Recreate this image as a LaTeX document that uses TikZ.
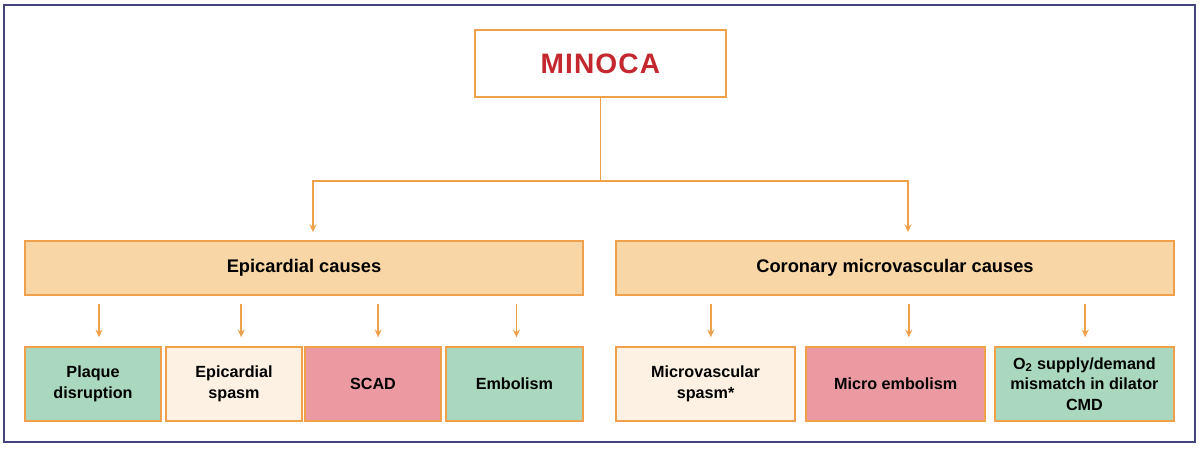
\documentclass[tikz,border=0pt]{standalone}
\usepackage{fontspec}
\setmainfont{Liberation Sans}
\usetikzlibrary{arrows.meta}

\definecolor{frameblue}{HTML}{45457F}
\definecolor{lineorange}{HTML}{F0A04A}
\definecolor{peach}{HTML}{F8D6A6}
\definecolor{mint}{HTML}{AAD8BE}
\definecolor{cream}{HTML}{FCF1E2}
\definecolor{rose}{HTML}{EB9AA2}
\definecolor{minored}{HTML}{C4282E}

\begin{document}
\begin{tikzpicture}[
    line width=1.3pt, draw=lineorange,
    arr/.style={-{Stealth[length=5.5pt,width=5pt]}, lineorange, line width=1.1pt},
    box/.style={draw=lineorange, line width=1.3pt, align=center, inner sep=2pt,
                font=\bfseries\fontsize{11.5}{14.5}\selectfont},
    cause/.style={box, fill=peach, minimum width=13.95cm, minimum height=1.35cm,
                  font=\bfseries\fontsize{13}{15}\selectfont},
    leaf/.style={box, minimum height=1.85cm}
]

\useasboundingbox (0,0) rectangle (30,11.2);
\draw[frameblue, line width=1.8pt] (0.1,0.15) rectangle (29.875,11.075);

% Row heights (cm)
\def\ya{9.61}
\def\yb{4.5}
\def\yc{1.6}

% top node
\node[box, fill=white, minimum width=6.275cm, minimum height=1.675cm,
      font=\bfseries\fontsize{20}{24}\selectfont\addfontfeatures{LetterSpace=4}, text=minored]
      (minoca) at (15.01,\ya) {MINOCA};

% two groups of causes
\node[cause] (epi) at (7.6,\yb)    {Epicardial causes};
\node[cause] (cmv) at (22.375,\yb) {Coronary microvascular causes};

% epicardial leaves
\node[leaf, fill=mint,  minimum width=3.4cm]   (plaque)   at (2.325,\yc) {Plaque\\disruption};
\node[leaf, fill=cream, minimum width=3.4cm]   (epispasm) at (5.85,\yc)  {Epicardial\\spasm};
\node[leaf, fill=rose,  minimum width=3.4cm]   (scad)     at (9.325,\yc) {SCAD};
\node[leaf, fill=mint,  minimum width=3.425cm] (embol)    at (12.86,\yc) {Embolism};

% microvascular leaves
\node[leaf, fill=cream, minimum width=4.475cm] (mvspasm)  at (17.64,\yc) {Microvascular\\spasm*};
\node[leaf, fill=rose,  minimum width=4.475cm] (microemb) at (22.39,\yc) {Micro embolism};
\node[leaf, fill=mint,  minimum width=4.475cm] (mismatch) at (27.11,\yc)
      {O\textsubscript{2} supply/demand\\mismatch in dilator\\CMD};

% split below MINOCA
\coordinate (split) at (15.01,6.675);
\draw[lineorange, line width=1.1pt] (minoca) -- (split);
\draw[arr, shorten >=0.2cm] (split) -| ([xshift=0.225cm]epi.north);
\draw[arr, shorten >=0.2cm] (split) -| ([xshift=0.325cm]cmv.north);

% group -> leaves
\foreach \leaf/\dx in {plaque/0.15, epispasm/0.18, scad/0.13, embol/0.05}
    \draw[arr, shorten <=0.2cm, shorten >=0.22cm]
        ([xshift=\dx cm]\leaf.north |- epi.south) -- ([xshift=\dx cm]\leaf.north);
\foreach \leaf/\dx in {mvspasm/0.13, microemb/0.33, mismatch/0.02}
    \draw[arr, shorten <=0.2cm, shorten >=0.22cm]
        ([xshift=\dx cm]\leaf.north |- cmv.south) -- ([xshift=\dx cm]\leaf.north);

\end{tikzpicture}
\end{document}
